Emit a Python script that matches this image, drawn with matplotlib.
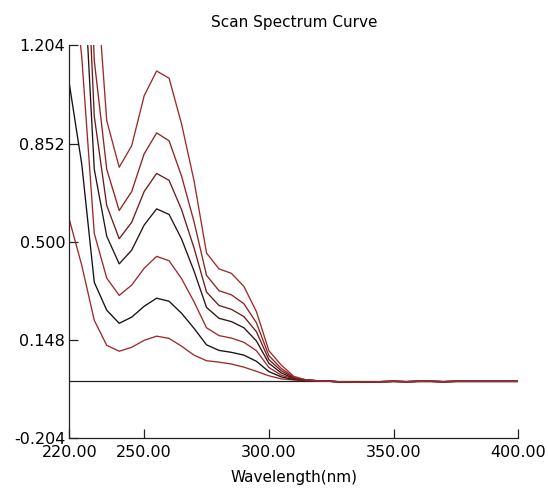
import numpy as np
import matplotlib
matplotlib.use("Agg")
import matplotlib.pyplot as plt

wavelength = np.arange(220, 401, 5)

tail = [0.002, 0.000, -0.002, -0.003, -0.002, -0.001, 0.000, -0.001, 0.000,
        0.000, -0.001, 0.000, 0.000, 0.000, 0.000, 0.000, 0.000]

c1 = [0.580, 0.415, 0.219, 0.129, 0.108, 0.122, 0.147, 0.162, 0.154, 0.126,
      0.094, 0.074, 0.069, 0.062, 0.051, 0.036, 0.020, 0.009, 0.005, 0.003] + tail
c2 = [1.066, 0.777, 0.355, 0.255, 0.208, 0.230, 0.269, 0.298, 0.287, 0.244,
      0.190, 0.131, 0.111, 0.104, 0.094, 0.072, 0.035, 0.016, 0.007, 0.004] + tail
c3 = [1.600, 1.160, 0.530, 0.370, 0.308, 0.345, 0.405, 0.448, 0.432, 0.368,
      0.285, 0.192, 0.164, 0.155, 0.140, 0.110, 0.050, 0.022, 0.009, 0.004] + tail
c4 = [2.200, 1.610, 0.760, 0.520, 0.421, 0.470, 0.560, 0.618, 0.598, 0.510,
      0.395, 0.265, 0.226, 0.214, 0.192, 0.145, 0.065, 0.030, 0.011, 0.005] + tail
c5 = [2.650, 1.940, 0.950, 0.630, 0.511, 0.570, 0.680, 0.745, 0.720, 0.615,
      0.478, 0.320, 0.272, 0.258, 0.232, 0.178, 0.078, 0.038, 0.013, 0.005] + tail
c6 = [3.200, 2.300, 1.150, 0.760, 0.612, 0.680, 0.815, 0.890, 0.862, 0.735,
      0.572, 0.380, 0.325, 0.310, 0.278, 0.210, 0.092, 0.046, 0.015, 0.005] + tail
c7 = [3.800, 2.900, 1.550, 0.934, 0.767, 0.844, 1.023, 1.112, 1.086, 0.922,
      0.719, 0.460, 0.403, 0.387, 0.340, 0.250, 0.110, 0.058, 0.018, 0.005] + tail

curves = [c1, c2, c3, c4, c5, c6, c7]
colors = ["#9e2a2a", "#111111", "#9e2a2a", "#2a1212", "#6e1c1c", "#8e2424", "#9e2a2a"]

xticks = [220, 250, 300, 350, 400]
yticks = [-0.204, 0.148, 0.500, 0.852, 1.204]

fig = plt.figure(figsize=(5.48, 4.95), dpi=100)
ax = fig.add_axes([0.1265, 0.1145, 0.8193, 0.794])

ax.axhline(0, color="#222222", lw=0.9, zorder=1)
for ys, col in zip(curves, colors):
    ax.plot(wavelength, ys, color=col, lw=0.95, zorder=2)

ax.set_xlim(220, 400)
ax.set_ylim(-0.204, 1.204)
ax.set_xticks(xticks)
ax.set_xticklabels([f"{t:.2f}" for t in xticks])
ax.set_yticks(yticks)
ax.set_yticklabels([f"{t:.3f}" for t in yticks])
ax.tick_params(direction="in", length=6.5, width=0.9, labelsize=11.5, color="#222222")
ax.tick_params(axis="y", pad=3)
ax.tick_params(axis="x", pad=5)

for s in ["top", "right"]:
    ax.spines[s].set_visible(False)
for s in ["left", "bottom"]:
    ax.spines[s].set_linewidth(0.9)
    ax.spines[s].set_color("#222222")

ax.set_title("Scan Spectrum Curve", fontsize=11, pad=13)
ax.set_xlabel("Wavelength(nm)", fontsize=11, labelpad=7)

fig.savefig("out.png", dpi=100)
